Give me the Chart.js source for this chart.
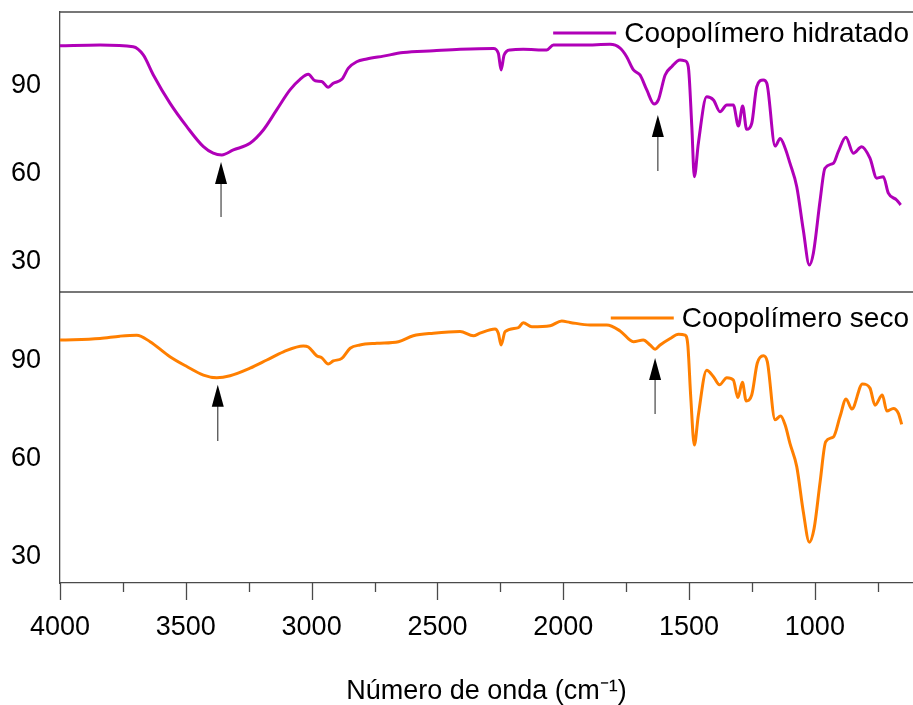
<!DOCTYPE html>
<html lang="pt">
<head>
<meta charset="utf-8">
<title>Espectro FTIR</title>
<script src="https://cdn.jsdelivr.net/npm/chart.js@4.4.1/dist/chart.umd.min.js"></script>
<style>
  html, body { margin: 0; padding: 0; background: #fff; }
  #caixa { width: 913px; height: 705px; }
</style>
</head>
<body>
<div id="caixa"><canvas id="graficoFtir" width="913" height="705"></canvas></div>
<script>
const ondaHidratado = [4000, 3841, 3709, 3669, 3629, 3563, 3496, 3430, 3391, 3357, 3311, 3245, 3192, 3139, 3086, 3046, 3013, 2986, 2960, 2934, 2914, 2880, 2854, 2821, 2781, 2715, 2636, 2516, 2410, 2278, 2258, 2247, 2235, 2211, 2159, 2066, 2039, 1920, 1814, 1774, 1748, 1721, 1695, 1668, 1639, 1622, 1595, 1569, 1536, 1516, 1503, 1489, 1479, 1463, 1430, 1403, 1377, 1350, 1324, 1304, 1287, 1271, 1251, 1231, 1205, 1191, 1158, 1138, 1118, 1099, 1072, 1046, 1022, 1006, 979, 960, 926, 907, 877, 847, 814, 781, 754, 728, 708, 675, 659];
const transmHidratado = [103.5, 103.8, 103.2, 100.4, 93.6, 84.0, 76.0, 69.2, 67.0, 66.4, 68.1, 70.4, 74.9, 81.7, 88.5, 92.1, 93.8, 91.6, 91.4, 89.4, 90.8, 92.1, 95.9, 98.1, 99.0, 100.0, 101.2, 101.8, 102.3, 102.6, 101.0, 95.3, 100.4, 102.1, 102.3, 102.1, 103.8, 103.8, 104.0, 102.7, 99.8, 95.3, 93.6, 88.5, 83.7, 85.1, 93.6, 96.4, 98.7, 98.4, 96.4, 76.0, 59.0, 70.4, 86.2, 85.1, 81.1, 83.4, 83.4, 76.2, 83.0, 75.1, 77.1, 89.6, 91.9, 90.8, 69.4, 72.0, 68.7, 63.6, 55.6, 40.9, 29.0, 33.0, 51.1, 61.9, 63.6, 67.5, 72.4, 67.0, 69.2, 65.3, 58.5, 59.0, 53.4, 51.1, 49.4];

const ondaSeco = [4000, 3841, 3762, 3695, 3642, 3563, 3496, 3430, 3377, 3324, 3245, 3178, 3112, 3033, 3013, 2980, 2960, 2934, 2914, 2880, 2847, 2808, 2741, 2655, 2596, 2516, 2410, 2357, 2331, 2271, 2258, 2247, 2231, 2178, 2159, 2125, 2052, 2006, 1973, 1893, 1827, 1774, 1721, 1682, 1655, 1635, 1615, 1575, 1542, 1516, 1505, 1493, 1479, 1463, 1430, 1403, 1379, 1350, 1324, 1306, 1288, 1273, 1251, 1229, 1205, 1189, 1158, 1136, 1118, 1099, 1072, 1046, 1022, 1003, 979, 957, 926, 900, 876, 853, 811, 781, 761, 732, 714, 688, 668, 655];
const transmSeco = [96.3, 96.8, 97.5, 97.8, 95.8, 91.2, 88.2, 85.6, 84.8, 85.4, 87.7, 90.2, 92.7, 94.5, 94.2, 91.5, 90.9, 89.0, 89.9, 90.7, 93.8, 94.8, 95.3, 95.8, 97.6, 98.4, 98.9, 97.6, 98.4, 99.7, 98.4, 94.8, 98.9, 100.1, 101.6, 100.4, 100.7, 102.1, 101.7, 100.9, 100.9, 99.1, 95.8, 96.3, 94.8, 93.5, 94.8, 96.8, 98.1, 97.8, 94.8, 78.5, 64.2, 73.4, 87.1, 85.1, 82.6, 84.8, 84.1, 78.7, 83.4, 77.7, 79.5, 89.2, 91.5, 89.7, 71.9, 73.1, 70.3, 64.7, 57.6, 43.8, 34.5, 38.7, 53.0, 65.2, 66.7, 72.9, 78.3, 75.2, 82.9, 81.6, 76.4, 79.5, 74.6, 75.4, 73.9, 70.5];

const xTicks = [4000, 3750, 3500, 3250, 3000, 2750, 2500, 2250, 2000, 1750, 1500, 1250, 1000, 750];
const yTicks = [30, 60, 90];

// setas: número de onda, início e ponta (em transmitância)
const setasHidratado = [[3360, 45.3, 64.0], [1624, 60.9, 80.0]];
const setasSeco = [[3373, 65.4, 82.6], [1635, 73.7, 90.8]];

const FONTE = "'Liberation Sans', Arial, sans-serif";
const COR_EIXO = '#4a4a4a';
const COR_HIDRATADO = '#b000b8';
const COR_SECO = '#ff7f00';

const pontos = (xs, ys) => xs.map((x, i) => ({ x: x, y: ys[i] }));
const fixaTicks = lista => s => { s.ticks = lista.map(v => ({ value: v })); };

const molduraPlugin = {
  id: 'moldura',
  afterDraw(chart) {
    const ctx = chart.ctx;
    const area = chart.chartArea;
    const sx = chart.scales.x;
    ctx.save();
    ctx.strokeStyle = COR_EIXO;
    ctx.lineWidth = 1.3;

    // linha superior de cada painel
    [chart.scales.yTop.top, chart.scales.yBot.top].forEach(y => {
      ctx.beginPath();
      ctx.moveTo(area.left, y);
      ctx.lineTo(area.right, y);
      ctx.stroke();
    });

    // marcas do eixo x (maiores a cada 500)
    xTicks.forEach(v => {
      const px = Math.round(sx.getPixelForValue(v)) + 0.5;
      const len = v % 500 === 0 ? 17 : 9;
      ctx.beginPath();
      ctx.moveTo(px, sx.top);
      ctx.lineTo(px, sx.top + len);
      ctx.stroke();
    });

    // setas
    const desenhaSeta = (eixo, s) => {
      const px = sx.getPixelForValue(s[0]);
      const yIni = eixo.getPixelForValue(s[1]);
      const yPonta = eixo.getPixelForValue(s[2]);
      ctx.strokeStyle = '#444';
      ctx.lineWidth = 1.2;
      ctx.beginPath();
      ctx.moveTo(px, yIni);
      ctx.lineTo(px, yPonta + 20);
      ctx.stroke();
      ctx.fillStyle = '#000';
      ctx.beginPath();
      ctx.moveTo(px, yPonta);
      ctx.lineTo(px - 6, yPonta + 22);
      ctx.lineTo(px + 6, yPonta + 22);
      ctx.closePath();
      ctx.fill();
    };
    setasHidratado.forEach(s => desenhaSeta(chart.scales.yTop, s));
    setasSeco.forEach(s => desenhaSeta(chart.scales.yBot, s));

    // legendas dentro de cada painel
    ctx.font = '28px ' + FONTE;
    ctx.textAlign = 'right';
    ctx.textBaseline = 'middle';
    [[0, chart.scales.yTop, 21], [1, chart.scales.yBot, 26]].forEach(([i, eixo, dy]) => {
      const ds = chart.data.datasets[i];
      const y = eixo.top + dy;
      const xTexto = area.right - 4;
      const larg = ctx.measureText(ds.label).width;
      ctx.fillStyle = '#000';
      ctx.fillText(ds.label, xTexto, y + 1);
      ctx.strokeStyle = ds.borderColor;
      ctx.lineWidth = 3;
      ctx.beginPath();
      ctx.moveTo(xTexto - larg - 8, y);
      ctx.lineTo(xTexto - larg - 71, y);
      ctx.stroke();
    });
    ctx.restore();
  }
};

const fonteTicks = { family: FONTE, size: 27 };

new Chart(document.getElementById('graficoFtir'), {
  type: 'line',
  data: {
    datasets: [
      {
        label: 'Coopolímero hidratado',
        data: pontos(ondaHidratado, transmHidratado),
        yAxisID: 'yTop',
        borderColor: COR_HIDRATADO,
        borderWidth: 3,
        pointRadius: 0,
        cubicInterpolationMode: 'monotone'
      },
      {
        label: 'Coopolímero seco',
        data: pontos(ondaSeco, transmSeco),
        yAxisID: 'yBot',
        borderColor: COR_SECO,
        borderWidth: 3,
        pointRadius: 0,
        cubicInterpolationMode: 'monotone'
      }
    ]
  },
  options: {
    responsive: false,
    animation: false,
    devicePixelRatio: 1,
    layout: { padding: { top: 12, left: 0, right: 0, bottom: 0 } },
    plugins: { legend: { display: false }, tooltip: { enabled: false } },
    scales: {
      x: {
        type: 'linear',
        reverse: true,
        min: 610,
        max: 4000,
        afterBuildTicks: fixaTicks(xTicks),
        afterFit: s => { s.height = 122; s.paddingLeft = 0; s.paddingRight = 0; },
        grid: { drawOnChartArea: false, drawTicks: false },
        border: { color: COR_EIXO, width: 1.3 },
        ticks: {
          callback: v => (v % 500 === 0 ? String(v) : ''),
          font: fonteTicks,
          color: '#000',
          padding: 28,
          maxRotation: 0,
          autoSkip: false
        },
        title: {
          display: true,
          text: 'Número de onda (cm⁻¹)',
          font: { family: FONTE, size: 27 },
          color: '#000',
          padding: { top: 0, bottom: -3 }
        }
      },
      yBot: {
        type: 'linear',
        position: 'left',
        stack: 'ir',
        stackWeight: 291,
        min: 22,
        max: 111,
        afterBuildTicks: fixaTicks(yTicks),
        afterFit: s => { s.width = 60; s.paddingTop = 0; s.paddingBottom = 0; },
        grid: { drawOnChartArea: false, drawTicks: false },
        border: { color: COR_EIXO, width: 1.3 },
        ticks: { font: fonteTicks, color: '#000', padding: 19 }
      },
      yTop: {
        type: 'linear',
        position: 'left',
        stack: 'ir',
        stackWeight: 280,
        min: 19.8,
        max: 115,
        afterBuildTicks: fixaTicks(yTicks),
        afterFit: s => { s.width = 60; s.paddingTop = 0; s.paddingBottom = 0; },
        grid: { drawOnChartArea: false, drawTicks: false },
        border: { color: COR_EIXO, width: 1.3 },
        ticks: { font: fonteTicks, color: '#000', padding: 19 }
      }
    }
  },
  plugins: [molduraPlugin]
});
</script>
</body>
</html>
